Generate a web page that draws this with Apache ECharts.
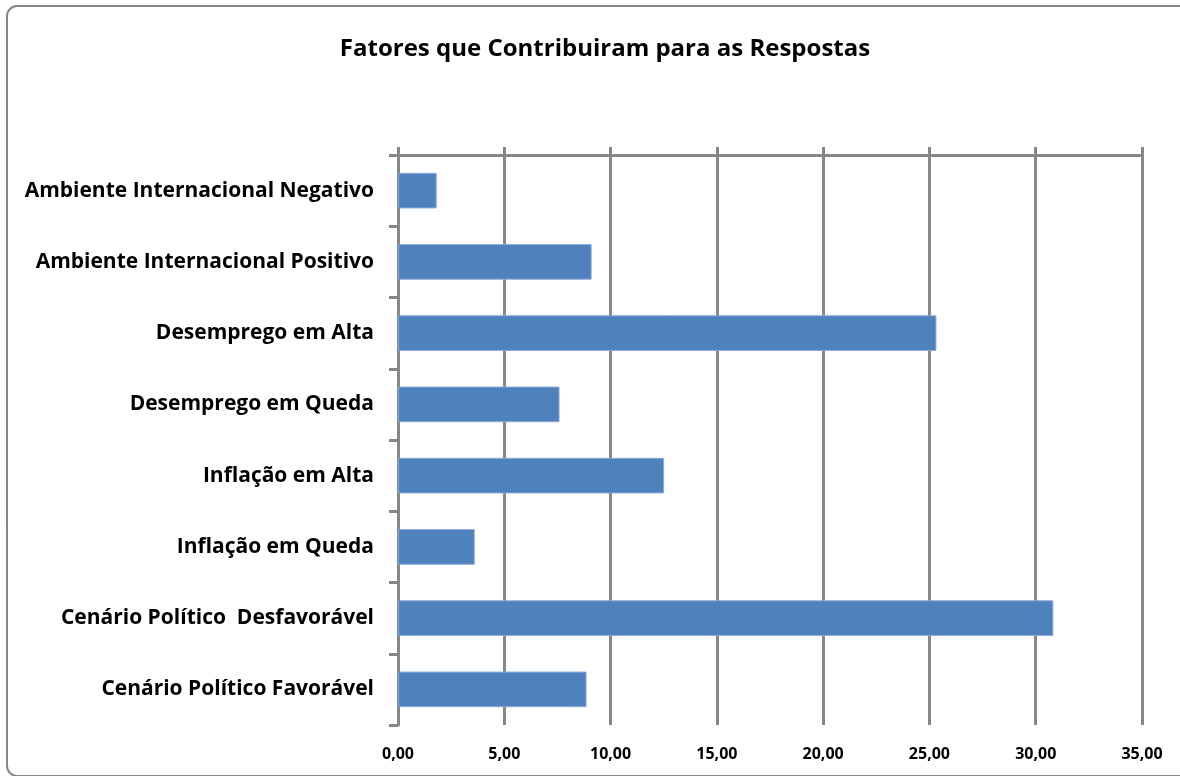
<!DOCTYPE html>
<html>
<head>
<meta charset="utf-8">
<script src="https://cdn.jsdelivr.net/npm/echarts@6/dist/echarts.min.js"></script>
<style>
html,body{margin:0;padding:0;background:#fff;}
#chart{width:1180px;height:776px;}
</style>
</head>
<body>
<div id="chart"></div>
<script>
var categories = [
  'Ambiente Internacional Negativo',
  'Ambiente Internacional Positivo',
  'Desemprego em Alta',
  'Desemprego em Queda',
  'Inflação em Alta',
  'Inflação em Queda',
  'Cenário Político  Desfavorável',
  'Cenário Político Favorável'
];
var values = [1.82, 9.11, 25.33, 7.60, 12.52, 3.61, 30.83, 8.87];
var xTicks = { min: 0, max: 35, interval: 5 };

var FONT = '"Open Sans", Lato, sans-serif';
var GRAY = '#878787';

var chart = echarts.init(document.getElementById('chart'));
chart.setOption({
  animation: false,
  backgroundColor: '#fff',
  title: {
    text: 'Fatores que Contribuiram para as Respostas',
    left: 600, textAlign: 'center', top: 32,
    textStyle: { fontFamily: FONT, fontWeight: 'bold', fontSize: 24, color: '#000' }
  },
  graphic: [{
    type: 'rect', silent: true, z: -1,
    shape: { x: 7, y: 6, width: 1182, height: 770, r: 10 },
    style: { fill: 'none', stroke: GRAY, lineWidth: 2 }
  }],
  grid: { left: 398, right: 38, top: 155, bottom: 51, containLabel: false },
  xAxis: [{
    type: 'value', position: 'bottom',
    min: xTicks.min, max: xTicks.max, interval: xTicks.interval,
    axisLine: { show: false },
    axisTick: { show: false },
    splitLine: { show: true, lineStyle: { color: GRAY, width: 3 } },
    axisLabel: {
      margin: 21,
      formatter: function (v) { return v.toFixed(2).replace('.', ','); },
      fontFamily: FONT, fontWeight: 'bold', fontSize: 16, color: '#000'
    }
  }, {
    type: 'value', position: 'top',
    min: xTicks.min, max: xTicks.max, interval: xTicks.interval,
    axisLine: { show: true, lineStyle: { color: GRAY, width: 3 } },
    axisTick: { show: true, inside: false, length: 8, lineStyle: { color: GRAY, width: 3 } },
    splitLine: { show: false },
    axisLabel: { show: false }
  }],
  yAxis: {
    type: 'category', data: categories, inverse: true,
    axisLine: { show: true, lineStyle: { color: GRAY, width: 3 } },
    axisTick: { show: true, length: 9, alignWithLabel: false, lineStyle: { color: GRAY, width: 3 } },
    axisLabel: {
      margin: 24,
      fontFamily: FONT, fontWeight: 'bold', fontSize: 21, color: '#000'
    }
  },
  series: [{
    type: 'bar', data: values, barCategoryGap: '50%',
    itemStyle: { color: '#4F81BD', borderColor: '#8aaad6', borderWidth: 1 }
  }]
});
</script>
</body>
</html>
